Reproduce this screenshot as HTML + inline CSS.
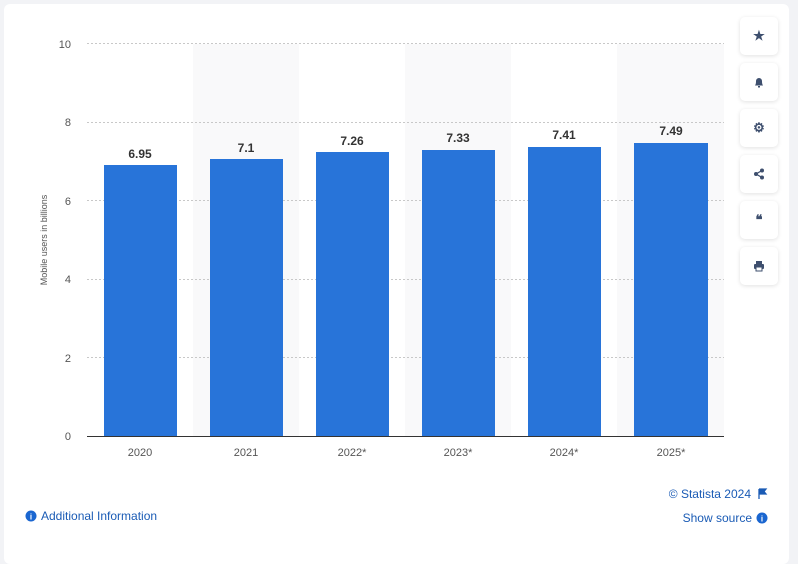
<!DOCTYPE html>
<html><head><style>
body{margin:0;width:798px;height:545px;background:#f2f3f6;font-family:"Liberation Sans",sans-serif;position:relative;overflow:hidden}
.card{position:absolute;left:4px;top:4px;width:785px;height:560px;background:#fff;border-radius:6px}
.btn{position:absolute;left:740px;width:38px;height:38px;background:#fff;border-radius:5px;box-shadow:0 1px 4px rgba(0,0,0,.12);display:flex;align-items:center;justify-content:center;color:#3e4f6e;font-size:13px;font-weight:bold}
</style></head><body>
<div class="card"></div>
<svg width="798" height="545" style="position:absolute;left:0;top:0">
<g fill="#f9f9fa">
<rect x="193" y="44" width="106" height="392"/><rect x="405" y="44" width="106" height="392"/><rect x="617" y="44" width="107" height="392"/>
</g>
<g stroke="#c8c8c8" stroke-dasharray="2,2" stroke-width="1">
<line x1="87" x2="724" y1="43.5" y2="43.5"/><line x1="87" x2="724" y1="122.5" y2="122.5"/><line x1="87" x2="724" y1="200.5" y2="200.5"/><line x1="87" x2="724" y1="279.5" y2="279.5"/><line x1="87" x2="724" y1="357.5" y2="357.5"/>
</g>
<line x1="87" x2="724" y1="436.5" y2="436.5" stroke="#333"/>
<g fill="#2874d9">
<rect x="104" y="165" width="73" height="271"/><rect x="210" y="159" width="73" height="277"/><rect x="316" y="152" width="73" height="284"/><rect x="422" y="150" width="73" height="286"/><rect x="528" y="147" width="73" height="289"/><rect x="634" y="143" width="74" height="293"/>
</g>
<g font-size="12" font-weight="bold" fill="#333" text-anchor="middle">
<text x="140" y="158">6.95</text><text x="246" y="152">7.1</text><text x="352" y="145">7.26</text><text x="458" y="142">7.33</text><text x="564" y="139">7.41</text><text x="671" y="135">7.49</text>
</g>
<g font-size="11" fill="#555" text-anchor="end">
<text x="71" y="48">10</text><text x="71" y="126">8</text><text x="71" y="205">6</text><text x="71" y="283">4</text><text x="71" y="362">2</text><text x="71" y="440">0</text>
</g>
<g font-size="11" fill="#555" text-anchor="middle">
<text x="140" y="456">2020</text><text x="246" y="456">2021</text><text x="352" y="456">2022*</text><text x="458" y="456">2023*</text><text x="564" y="456">2024*</text><text x="671" y="456">2025*</text>
</g>
<text transform="translate(47,240) rotate(-90)" font-size="9" fill="#555" text-anchor="middle">Mobile users in billions</text>
<circle cx="31" cy="516" r="5.5" fill="#1a66d0"/><text x="31" y="519.5" font-size="8" fill="#fff" text-anchor="middle" font-weight="bold">i</text>
<text x="41" y="520" font-size="12" fill="#1a5bb5">Additional Information</text>
<text x="751" y="498" font-size="12" fill="#1a5bb5" text-anchor="end">© Statista 2024</text>
<path d="M759 489v10M759 489h7l-2 2.5 2 2.5h-7" stroke="#1a5bb5" fill="#1a5bb5" stroke-width="1.3"/>
<text x="752" y="522" font-size="12" fill="#1a5bb5" text-anchor="end">Show source</text>
<circle cx="762" cy="518" r="5.5" fill="#1a66d0"/><text x="762" y="521.5" font-size="8" fill="#fff" text-anchor="middle" font-weight="bold">i</text>
</svg>
<div class="btn" style="top:17px">★</div>
<div class="btn" style="top:63px"><svg width="12" height="12"><path d="M2 9.5C3 8 3 6.5 3 5a3 3 0 0 1 6 0c0 1.5 0 3 1 4.5z" fill="#3e4f6e"/><rect x="5" y="10" width="2" height="1.5" fill="#3e4f6e"/></svg></div>
<div class="btn" style="top:109px">⚙</div>
<div class="btn" style="top:155px">
<svg width="12" height="12"><circle cx="9" cy="2.5" r="2" fill="#3e4f6e"/><circle cx="3" cy="6" r="2" fill="#3e4f6e"/><circle cx="9" cy="9.5" r="2" fill="#3e4f6e"/><path d="M9 2.5L3 6L9 9.5" stroke="#3e4f6e" stroke-width="1.3" fill="none"/></svg></div>
<div class="btn" style="top:201px">❝</div>
<div class="btn" style="top:247px"><svg width="12" height="12"><rect x="3" y="1" width="6" height="3" fill="#3e4f6e"/><rect x="1" y="4" width="10" height="5" rx="1" fill="#3e4f6e"/><rect x="3" y="7" width="6" height="4" fill="#fff" stroke="#3e4f6e"/></svg></div>
</body></html>
